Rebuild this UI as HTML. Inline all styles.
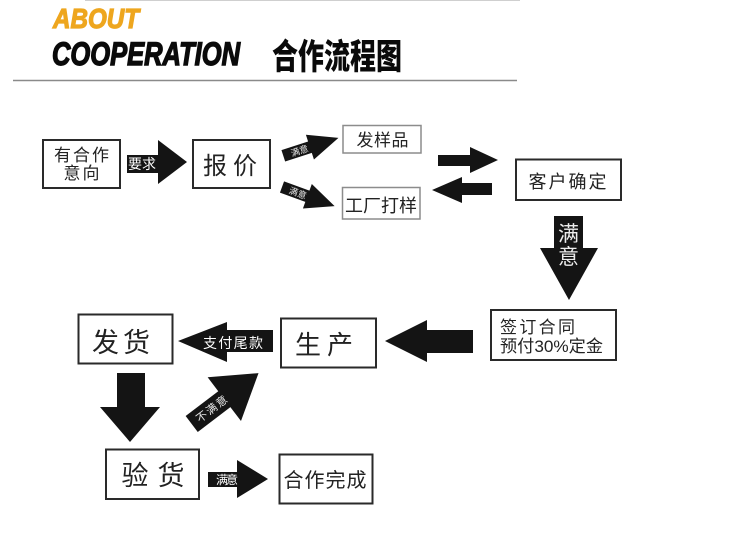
<!DOCTYPE html>
<html>
<head>
<meta charset="utf-8">
<style>
html,body{margin:0;padding:0;background:#fff;}
svg{display:block;}
.cjk{font-family:"Liberation Sans","Noto Sans CJK SC",sans-serif;fill:#222;}
.w{font-family:"Liberation Sans","Noto Sans CJK SC",sans-serif;fill:#fff;}
.bx{fill:#fff;stroke:#2a2a2a;stroke-width:2;}
.lb{fill:#fff;stroke:#8c8c8c;stroke-width:1.5;}
.ar{fill:#141414;}
</style>
</head>
<body>
<svg width="751" height="542" viewBox="0 0 751 542" xmlns="http://www.w3.org/2000/svg">
<rect width="751" height="542" fill="#fff"/>
<line x1="85" y1="0.5" x2="520" y2="0.5" stroke="#cfcfcf" stroke-width="1"/>
<line x1="13" y1="80.5" x2="517" y2="80.5" stroke="#8a8a8a" stroke-width="1.5"/>

<!-- header -->
<text x="53" y="28" font-family="Liberation Sans, sans-serif" font-weight="bold" font-style="italic" font-size="28" fill="#eea61e" stroke="#eea61e" stroke-width="1.2" textLength="86" lengthAdjust="spacingAndGlyphs">ABOUT</text>
<text x="52" y="65" font-family="Liberation Sans, sans-serif" font-weight="bold" font-style="italic" font-size="32" fill="#0a0a0a" stroke="#0a0a0a" stroke-width="1.4" textLength="188" lengthAdjust="spacingAndGlyphs">COOPERATION</text>
<text x="272" y="69" font-family="'Noto Sans CJK SC','WenQuanYi Zen Hei',sans-serif" font-weight="900" font-size="35" fill="#0a0a0a" textLength="130" lengthAdjust="spacingAndGlyphs">合作流程图</text>

<!-- 有合作意向 -->
<rect class="bx" x="43" y="140" width="77" height="48"/>
<text class="cjk" x="81.5" y="161" font-size="17" text-anchor="middle" textLength="55">有合作</text>
<text class="cjk" x="81.5" y="179" font-size="17" text-anchor="middle" textLength="36">意向</text>

<!-- 要求 arrow -->
<polygon class="ar" points="127,155 158,155 158,140 187,162 158,184 158,173 127,173"/>
<text class="w" x="142" y="169" font-size="14" text-anchor="middle" textLength="28">要求</text>

<!-- 报价 -->
<rect class="bx" x="193" y="140" width="77" height="48"/>
<text class="cjk" x="230" y="174" font-size="24" text-anchor="middle" textLength="54">报价</text>

<!-- small arrows -->
<g transform="translate(283.3,155.8) rotate(-18)">
<polygon class="ar" points="0,-6 28,-6 28,-13 58,0 28,13 28,6 0,6"/>
<text class="w" x="17" y="3.5" font-size="9" text-anchor="middle" fill-opacity="0.9">满意</text>
</g>
<g transform="translate(282,187) rotate(20)">
<polygon class="ar" points="0,-6 27,-6 27,-13 56,0 27,13 27,6 0,6"/>
<text class="w" x="17" y="3.5" font-size="9" text-anchor="middle" fill-opacity="0.9">满意</text>
</g>

<!-- 发样品 / 工厂打样 -->
<rect class="lb" x="343" y="125.5" width="78" height="27.5"/>
<text class="cjk" x="382.5" y="146" font-size="17" text-anchor="middle" textLength="52">发样品</text>
<rect class="lb" x="342.5" y="187.5" width="77.5" height="31.5"/>
<text class="cjk" x="381" y="212" font-size="18" text-anchor="middle" textLength="72">工厂打样</text>

<!-- double arrows -->
<polygon class="ar" points="438,155 470,155 470,147 498,160 470,173 470,166 438,166"/>
<polygon class="ar" points="492,183 462,183 462,177 432,190 462,203 462,195 492,195"/>

<!-- 客户确定 -->
<rect class="bx" x="516" y="159.5" width="105" height="40.5"/>
<text class="cjk" x="567.5" y="188" font-size="18" text-anchor="middle" textLength="78">客户确定</text>

<!-- down arrow 满意 -->
<polygon class="ar" points="554,216 583,216 583,248 598,248 569,300 540,248 554,248"/>
<text class="w" x="568.5" y="241" font-size="21" text-anchor="middle" fill-opacity="0.92">满</text>
<text class="w" x="568.5" y="264" font-size="21" text-anchor="middle" fill-opacity="0.92">意</text>

<!-- 签订合同 -->
<rect class="bx" x="491" y="310" width="125" height="50"/>
<text class="cjk" x="500" y="333" font-size="17" textLength="75">签订合同</text>
<text class="cjk" x="500" y="352" font-size="17" textLength="103" lengthAdjust="spacingAndGlyphs">预付30%定金</text>

<!-- arrow to 生产 -->
<polygon class="ar" points="473,330 427,330 427,320 385,341 427,362 427,353 473,353"/>

<!-- 生产 -->
<rect class="bx" x="281" y="318.5" width="95" height="49"/>
<text class="cjk" x="324" y="354" font-size="26" text-anchor="middle" textLength="58">生产</text>

<!-- 支付尾款 arrow -->
<polygon class="ar" points="273,330 227,330 227,322 178,341 227,362 227,352 273,352"/>
<text class="w" x="233" y="348" font-size="14" text-anchor="middle" textLength="60">支付尾款</text>

<!-- 发货 -->
<rect class="bx" x="78.5" y="314.5" width="94" height="49"/>
<text class="cjk" x="121" y="352" font-size="27" text-anchor="middle" textLength="58">发货</text>

<!-- down arrow -->
<polygon class="ar" points="117,373 145,373 145,407 160,407 130,442 100,407 117,407"/>

<!-- 不满意 diagonal -->
<g transform="translate(191.7,424) rotate(-37.3)">
<polygon class="ar" points="0,-10 41,-10 41,-27.5 84,0 41,27.5 41,10 0,10"/>
<text class="w" x="25" y="4" font-size="11" text-anchor="middle" textLength="36" fill-opacity="0.9">不满意</text>
</g>

<!-- 验货 -->
<rect class="bx" x="106" y="449.5" width="93" height="49.5"/>
<text class="cjk" x="153" y="485" font-size="27" text-anchor="middle" textLength="63">验货</text>

<!-- 满意 arrow -->
<polygon class="ar" points="208,472 237,472 237,460 268,479 237,498 237,487 208,487"/>
<text class="w" x="227" y="484" font-size="12" text-anchor="middle" textLength="22">满意</text>

<!-- 合作完成 -->
<rect class="bx" x="279.5" y="454.5" width="93" height="49"/>
<text class="cjk" x="325" y="487" font-size="20" text-anchor="middle" textLength="83">合作完成</text>
</svg>
</body>
</html>
